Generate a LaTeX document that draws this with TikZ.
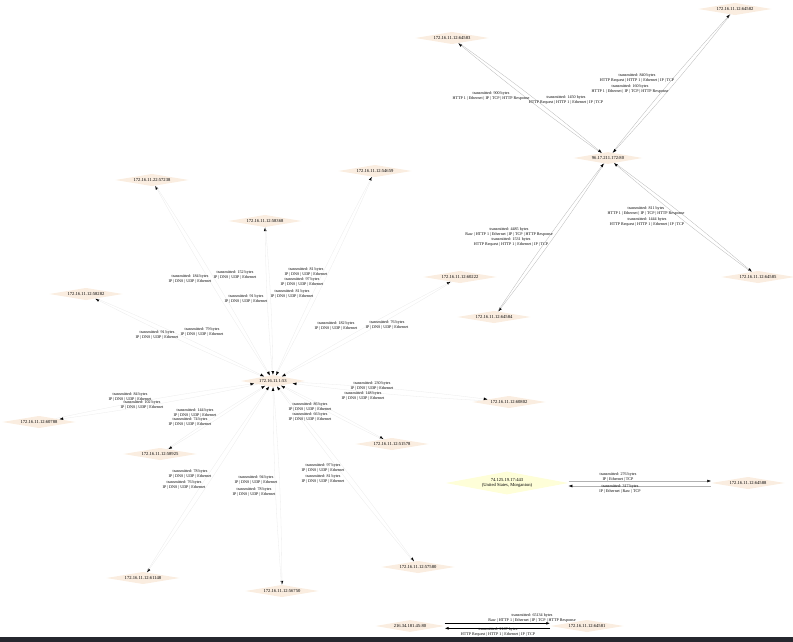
\documentclass[tikz,border=0pt]{standalone}
\usepackage{fontspec}
\setmainfont{Liberation Serif}
\usetikzlibrary{shapes.geometric,arrows.meta}

\definecolor{hostfill}{RGB}{250,237,224}
\definecolor{remotefill}{RGB}{254,254,216}
\definecolor{barcolor}{RGB}{38,39,46}

\tikzset{
	host/.style={diamond, aspect=6, fill=hostfill, draw=none, inner xsep=6pt, inner ysep=0.5pt,
		minimum height=12pt, font=\fontsize{4.6}{5}\selectfont},
	remote/.style={host, fill=remotefill, align=center, minimum width=115pt, minimum height=23pt},
	flow/.style={-{Latex[length=3.8pt,width=2.8pt,color=black]}, line width=0.3pt},
	dnsflow/.style={flow, draw=gray!16},
	httpflow/.style={flow, draw=gray!55},
	tcpflow/.style={flow, draw=gray!60, line width=0.4pt},
	bigflow/.style={flow, draw=black, line width=0.6pt},
	lbl/.style={align=center, inner sep=0pt, font=\fontsize{4.1}{4.3}\selectfont}
}

\begin{document}
\begin{tikzpicture}[x=1pt, y=-1pt]
	\useasboundingbox (0,0) rectangle (793,642);
	\fill[barcolor] (0,637) rectangle (793,642);

	%Webserver und Clients
	\node[host] (web) at (608,158) {96.17.211.172:80};
	\node[host] (h64583) at (452,38) {172.16.11.12:64583};
	\node[host] (h64582) at (735,9) {172.16.11.12:64582};
	\node[host] (h64584) at (494,317) {172.16.11.12:64584};
	\node[host] (h64585) at (758,277) {172.16.11.12:64585};

	%DNS Server und Clients
	\node[host] (hub) at (273,381) {172.16.11.1:53};
	\node[host] (h57238) at (152,180) {172.16.11.22:57238};
	\node[host] (h54659) at (375,171) {172.16.11.12:54659};
	\node[host] (h58368) at (265,221) {172.16.11.12:58368};
	\node[host] (h58282) at (86,294) {172.16.11.12:58282};
	\node[host] (h60222) at (460,277) {172.16.11.12:60222};
	\node[host] (h60788) at (39,422) {172.16.11.12:60788};
	\node[host] (h60802) at (509,402) {172.16.11.12:60802};
	\node[host] (h58925) at (160,454) {172.16.11.12:58925};
	\node[host] (h51578) at (392,444) {172.16.11.12:51578};
	\node[host] (h61148) at (143,578) {172.16.11.12:61148};
	\node[host] (h56750) at (282,591) {172.16.11.12:56750};
	\node[host] (h57580) at (418,567) {172.16.11.12:57580};

	%TLS und HTTP Einzelverbindungen
	\node[remote] (goo) at (507,483) {74.125.19.17:443\\(United States, Morganton)};
	\node[host] (h64588) at (748,483) {172.16.11.12:64588};
	\node[host] (srv) at (410,626) {216.34.181.45:80};
	\node[host] (h64581) at (587,626) {172.16.11.12:64581};

	%Verbindungen
	\foreach \p in {64583,64582,64584,64585}{
		\draw[httpflow] (web) to[bend left=2] (h\p);
		\draw[httpflow] (h\p) to[bend left=2] (web);
	}
	\foreach \p in {57238,54659,58368,58282,60222,60788,60802,58925,51578,61148,56750,57580}{
		\draw[dnsflow] (hub) to[bend left=2] (h\p);
		\draw[dnsflow] (h\p) to[bend left=2] (hub);
	}
	\draw[tcpflow] ([yshift=2pt]goo.east) -- ([yshift=2pt]h64588.west);
	\draw[tcpflow] ([yshift=-3pt]h64588.west) -- ([yshift=-3pt]goo.east);
	\draw[bigflow] ([yshift=2.7pt]srv.east) -- ([yshift=2.7pt]h64581.west);
	\draw[bigflow] ([yshift=-2.3pt]h64581.west) -- ([yshift=-2.3pt]srv.east);

	%Beschriftung HTTP
	\node[lbl] (t64583a) at (491,96) {transmitted: 900 bytes\\HTTP 1 | Ethernet | IP | TCP | HTTP Response};
	\node[lbl] (t64583b) at (566,100) {transmitted: 1450 bytes\\HTTP Request | HTTP 1 | Ethernet | IP | TCP};
	\node[lbl] (t64582a) at (637,78) {transmitted: 840 bytes\\HTTP Request | HTTP 1 | Ethernet | IP | TCP};
	\node[lbl] (t64582b) at (630,89) {transmitted: 160 bytes\\HTTP 1 | Ethernet | IP | TCP | HTTP Response};
	\node[lbl] (t64584a) at (509,232) {transmitted: 4485 bytes\\Raw | HTTP 1 | Ethernet | IP | TCP | HTTP Response};
	\node[lbl] (t64584b) at (511,242) {transmitted: 1531 bytes\\HTTP Request | HTTP 1 | Ethernet | IP | TCP};
	\node[lbl] (t64585a) at (646,211) {transmitted: 811 bytes\\HTTP 1 | Ethernet | IP | TCP | HTTP Response};
	\node[lbl] (t64585b) at (647,222) {transmitted: 1444 bytes\\HTTP Request | HTTP 1 | Ethernet | IP | TCP};

	%Beschriftung DNS
	\node[lbl] (t57238a) at (190,279) {transmitted: 184 bytes\\IP | DNS | UDP | Ethernet};
	\node[lbl] (t57238b) at (235,275) {transmitted: 152 bytes\\IP | DNS | UDP | Ethernet};
	\node[lbl] (t58368a) at (246,299) {transmitted: 91 bytes\\IP | DNS | UDP | Ethernet};
	\node[lbl] (t58368b) at (292,294) {transmitted: 81 bytes\\IP | DNS | UDP | Ethernet};
	\node[lbl] (t54659a) at (306,272) {transmitted: 81 bytes\\IP | DNS | UDP | Ethernet};
	\node[lbl] (t54659b) at (302,282) {transmitted: 97 bytes\\IP | DNS | UDP | Ethernet};
	\node[lbl] (t58282a) at (157,335) {transmitted: 91 bytes\\IP | DNS | UDP | Ethernet};
	\node[lbl] (t58282b) at (202,332) {transmitted: 79 bytes\\IP | DNS | UDP | Ethernet};
	\node[lbl] (t60222a) at (336,326) {transmitted: 182 bytes\\IP | DNS | UDP | Ethernet};
	\node[lbl] (t60222b) at (387,325) {transmitted: 76 bytes\\IP | DNS | UDP | Ethernet};
	\node[lbl] (t60788a) at (130,397) {transmitted: 84 bytes\\IP | DNS | UDP | Ethernet};
	\node[lbl] (t60788b) at (142,405) {transmitted: 102 bytes\\IP | DNS | UDP | Ethernet};
	\node[lbl] (t58925a) at (195,413) {transmitted: 144 bytes\\IP | DNS | UDP | Ethernet};
	\node[lbl] (t58925b) at (190,422) {transmitted: 74 bytes\\IP | DNS | UDP | Ethernet};
	\node[lbl] (t51578a) at (310,407) {transmitted: 86 bytes\\IP | DNS | UDP | Ethernet};
	\node[lbl] (t51578b) at (310,417) {transmitted: 66 bytes\\IP | DNS | UDP | Ethernet};
	\node[lbl] (t60802a) at (372,386) {transmitted: 230 bytes\\IP | DNS | UDP | Ethernet};
	\node[lbl] (t60802b) at (363,396) {transmitted: 148 bytes\\IP | DNS | UDP | Ethernet};
	\node[lbl] (t61148a) at (190,474) {transmitted: 78 bytes\\IP | DNS | UDP | Ethernet};
	\node[lbl] (t61148b) at (184,485) {transmitted: 76 bytes\\IP | DNS | UDP | Ethernet};
	\node[lbl] (t56750a) at (256,480) {transmitted: 94 bytes\\IP | DNS | UDP | Ethernet};
	\node[lbl] (t56750b) at (254,492) {transmitted: 78 bytes\\IP | DNS | UDP | Ethernet};
	\node[lbl] (t57580a) at (323,468) {transmitted: 97 bytes\\IP | DNS | UDP | Ethernet};
	\node[lbl] (t57580b) at (323,479) {transmitted: 81 bytes\\IP | DNS | UDP | Ethernet};

	%Beschriftung TCP
	\node[lbl] (t64588a) at (618,477) {transmitted: 276 bytes\\IP | Ethernet | TCP};
	\node[lbl] (t64588b) at (620,489) {transmitted: 317 bytes\\IP | Ethernet | Raw | TCP};
	\node[lbl] (t64581a) at (532,618) {transmitted: 65134 bytes\\Raw | HTTP 1 | Ethernet | IP | TCP | HTTP Response};
	\node[lbl] (t64581b) at (498,632) {transmitted: 2167 bytes\\HTTP Request | HTTP 1 | Ethernet | IP | TCP};
\end{tikzpicture}
\end{document}
